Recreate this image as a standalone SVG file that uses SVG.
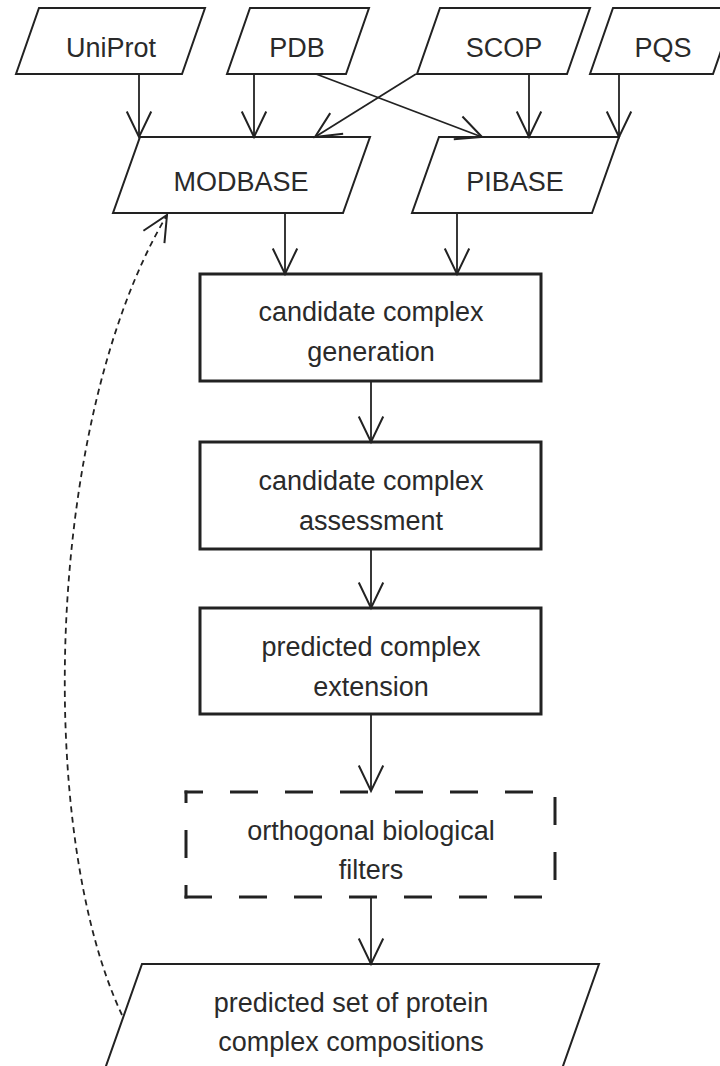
<svg xmlns="http://www.w3.org/2000/svg" width="720" height="1066" viewBox="0 0 720 1066">
<defs>
<style>
.para{fill:#fff;stroke:#222;stroke-width:2;stroke-linejoin:miter}
.box{fill:#fff;stroke:#222;stroke-width:3}
.dbox{fill:none;stroke:#222;stroke-width:3;stroke-dasharray:25 30;stroke-linecap:square}
.lbl{font-family:"Liberation Sans",Arial,sans-serif;font-size:27px;fill:#2a2a2a;text-anchor:middle}
.conn{fill:none;stroke:#222;stroke-width:1.8;marker-end:url(#arr)}
.dash{stroke-dasharray:6 4.5}
</style>
<marker id="arr" markerUnits="userSpaceOnUse" markerWidth="30" markerHeight="30" viewBox="-25 -13 27 26" refX="0" refY="0" orient="auto" overflow="visible">
<path d="M-23,-11 L0,0 L-23,11" fill="none" stroke="#222" stroke-width="1.8" stroke-dasharray="none"/>
</marker>
</defs>
<rect width="720" height="1066" fill="#fff"/>

<g id="uniprot"><polygon class="para" points="39,8 205,8 182,74 16,74"/><text class="lbl" x="111" y="57">UniProt</text></g>
<g id="pdb"><polygon class="para" points="250,8 369,8 346,74 227,74"/><text class="lbl" x="297" y="57">PDB</text></g>
<g id="scop"><polygon class="para" points="440,8 590,8 567,74 417,74"/><text class="lbl" x="504" y="57">SCOP</text></g>
<g id="pqs"><polygon class="para" points="613,8 736,8 713,74 590,74"/><text class="lbl" x="663" y="57">PQS</text></g>

<g id="modbase"><polygon class="para" points="140,137 370,137 343,213 113,213"/><text class="lbl" x="241" y="191">MODBASE</text></g>
<g id="pibase"><polygon class="para" points="439,137 619,137 592,213 412,213"/><text class="lbl" x="515" y="191">PIBASE</text></g>

<g id="generation"><rect class="box" x="200" y="274" width="341" height="107"/><text class="lbl" x="371" y="321">candidate complex</text><text class="lbl" x="371" y="361">generation</text></g>
<g id="assessment"><rect class="box" x="200" y="442" width="341" height="107"/><text class="lbl" x="371" y="490">candidate complex</text><text class="lbl" x="371" y="530">assessment</text></g>
<g id="extension"><rect class="box" x="200" y="608" width="341" height="106"/><text class="lbl" x="371" y="656">predicted complex</text><text class="lbl" x="371" y="696">extension</text></g>
<g id="filters">
<line class="dbox" x1="186" y1="792" x2="555" y2="792" stroke-dashoffset="9.5"/>
<line class="dbox" x1="555" y1="792" x2="555" y2="897" stroke-dashoffset="48.5"/>
<line class="dbox" x1="186" y1="897" x2="555" y2="897" stroke-dashoffset="0.5"/>
<line class="dbox" x1="186" y1="792" x2="186" y2="897" stroke-dashoffset="15.5"/>
<text class="lbl" x="371" y="840">orthogonal biological</text><text class="lbl" x="371" y="879">filters</text></g>
<g id="predicted-set"><polygon class="para" points="142,964 599,964 551,1100 94,1100"/><text class="lbl" x="351" y="1012">predicted set of protein</text><text class="lbl" x="351" y="1051">complex compositions</text></g>

<g id="connectors">
<line class="conn" x1="139" y1="74" x2="139" y2="137"/>
<line class="conn" x1="254" y1="74" x2="254" y2="137"/>
<line class="conn" x1="316" y1="74" x2="482" y2="137"/>
<line class="conn" x1="416" y1="74" x2="315" y2="137"/>
<line class="conn" x1="529" y1="74" x2="529" y2="137"/>
<line class="conn" x1="619" y1="74" x2="619" y2="137"/>
<line class="conn" x1="285" y1="213" x2="285" y2="274"/>
<line class="conn" x1="457" y1="213" x2="457" y2="274"/>
<line class="conn" x1="371" y1="381" x2="371" y2="442"/>
<line class="conn" x1="371" y1="549" x2="371" y2="608"/>
<line class="conn" x1="371" y1="714" x2="371" y2="791"/>
<line class="conn" x1="371" y1="897" x2="371" y2="964"/>
<path class="conn dash" d="M122,1015 C35,830 45,420 167,215"/>
</g>
</svg>
